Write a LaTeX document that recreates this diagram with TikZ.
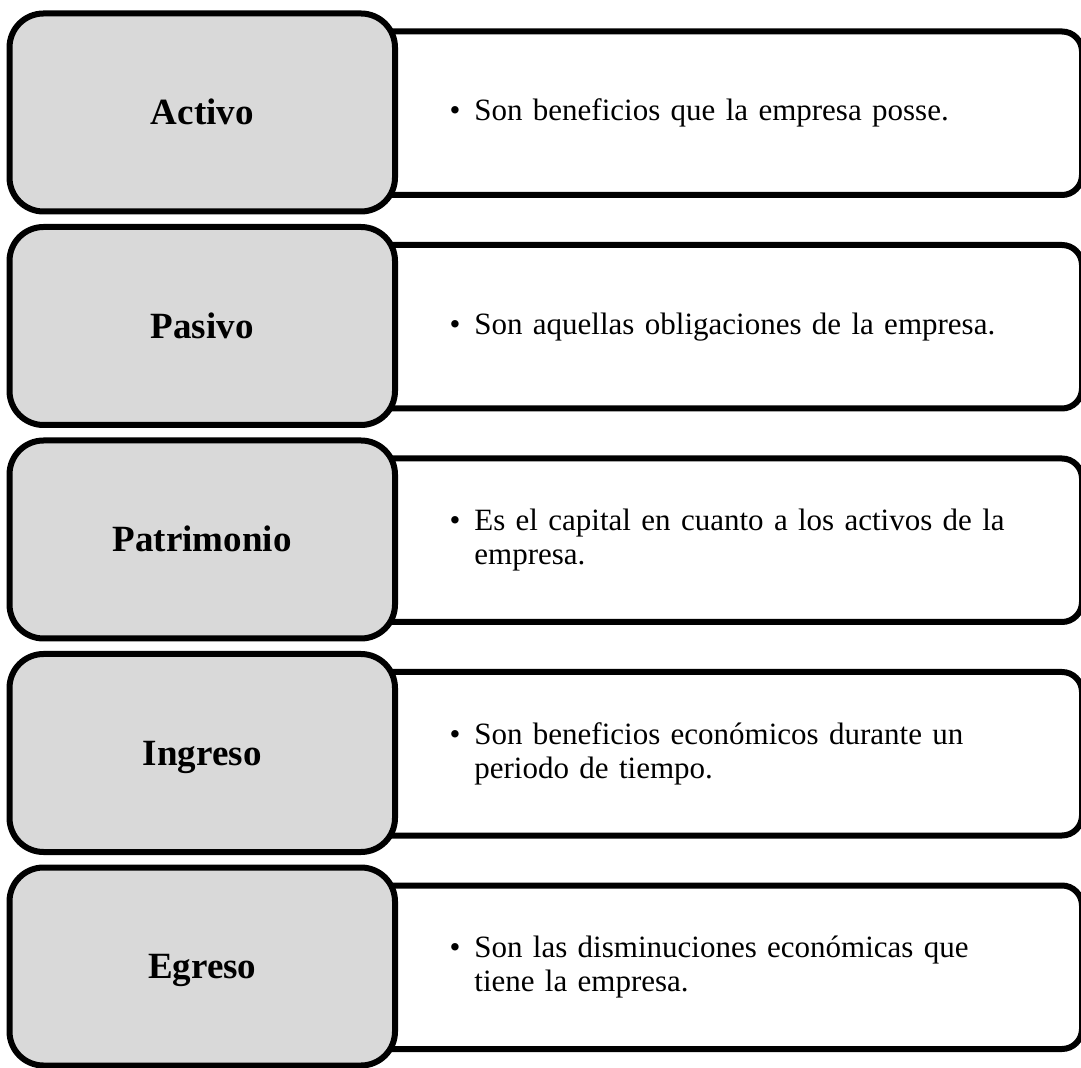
\documentclass[tikz,border=0pt]{standalone}
\usepackage{fontspec}
\setmainfont{Liberation Serif}
\usetikzlibrary{positioning}
\definecolor{termgrey}{HTML}{D9D9D9}
\newcommand\bul{\leavevmode\llap{\textbullet\hspace{7pt}}}
\tikzset{
    termbox/.style={draw=black, line width=3pt, fill=termgrey, rounded corners=17pt,
        minimum width=192.75pt, minimum height=99pt, inner sep=0pt,
        font=\fontsize{18.5}{22}\selectfont\bfseries, text height=12.2pt, text depth=0pt},
    descbox/.style={draw=black, line width=3pt, fill=white, rounded corners=10pt,
        minimum width=391pt, minimum height=81.75pt},
    desctext/.style={anchor=west, align=left, text width=300pt, inner sep=0pt,
        font=\fontsize{15.5}{17}\selectfont},
}
\begin{document}
\begin{tikzpicture}[x=0.5pt,y=-0.5pt]
            \useasboundingbox (0,0) rectangle (1081,1068);
            % Activo
            \node [descbox] (dact) at (691,113.25) {};
            \node [termbox] (act) at (202.25,112.5) {Activo};
            \node [desctext] (tact) at (474,113.25) {\bul Son beneficios que la empresa posse.};
            % Pasivo
            \node [descbox] (dpas) at (691,326.75) {};
            \node [termbox] (pas) at (202.25,326) {Pasivo};
            \node [desctext] (tpas) at (474,326.75) {\bul Son aquellas obligaciones de la empresa.};
            % Patrimonio
            \node [descbox] (dpat) at (691,540.25) {};
            \node [termbox] (pat) at (202.25,539.5) {Patrimonio};
            \node [desctext] (tpat) at (474,540.25) {\bul Es el capital en cuanto a los activos de la\\ empresa.};
            % Ingreso
            \node [descbox] (ding) at (691,753.75) {};
            \node [termbox] (ing) at (202.25,753) {Ingreso};
            \node [desctext] (ting) at (474,753.75) {\bul Son beneficios económicos durante un\\ periodo de tiempo.};
            % Egreso
            \node [descbox] (degr) at (691,967.25) {};
            \node [termbox] (egr) at (202.25,966.5) {Egreso};
            \node [desctext] (tegr) at (474,967.25) {\bul Son las disminuciones económicas que\\ tiene la empresa.};
        \end{tikzpicture}
\end{document}
